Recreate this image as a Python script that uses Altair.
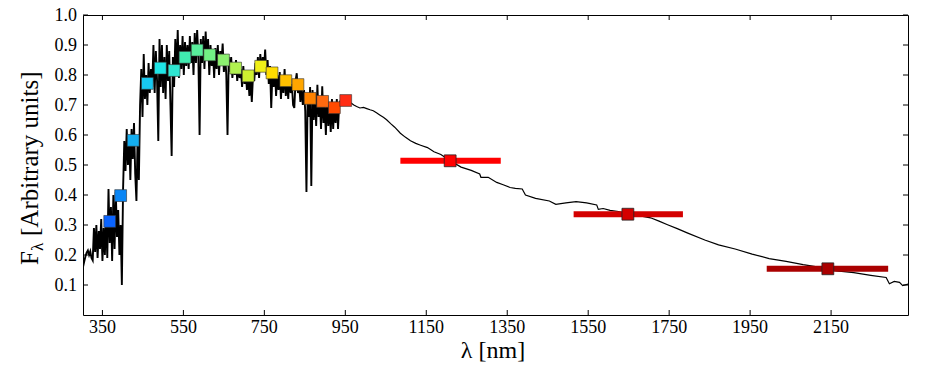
import altair as alt
import pandas as pd

# ---------------- data ----------------
# noisy optical spectrum (nm, flux)
wl_uv = [302, 305, 308, 311, 314, 317, 320, 323, 326, 329, 332, 335, 338, 341, 344, 347, 350,
         353, 356, 359, 362, 365, 368, 371, 374, 377, 380, 383, 386, 389, 392, 395, 398]
fx_uv = [0.160, 0.178, 0.195, 0.208, 0.215, 0.200, 0.212, 0.190, 0.182, 0.290,
         0.21, 0.30, 0.19, 0.28, 0.22, 0.32, 0.18, 0.29, 0.20, 0.33,
         0.19, 0.42, 0.24, 0.36, 0.18, 0.40, 0.22, 0.41, 0.26, 0.35,
         0.20, 0.30, 0.10]

wl_blue = [401, 404, 407, 410, 413, 416, 419, 422, 425, 428, 431, 434, 437, 440,
           443, 446, 449, 452, 455, 458, 461, 464, 467, 470]
fx_blue = [0.42, 0.58, 0.48, 0.62, 0.50, 0.60, 0.45, 0.62, 0.52, 0.64, 0.47, 0.38, 0.60, 0.45,
           0.70, 0.82, 0.66, 0.87, 0.72, 0.80, 0.70, 0.84, 0.74, 0.82]

wl_green = [473, 476, 479, 482, 485, 488, 491, 494, 497, 500, 503, 506, 509, 512, 515,
            518, 521, 524, 527, 530, 533, 536, 539, 542, 545, 548, 551, 554, 557, 560]
fx_green = [0.76, 0.90, 0.74, 0.88, 0.78, 0.58, 0.92, 0.76, 0.90, 0.74, 0.86, 0.72, 0.90, 0.78, 0.88,
            0.70, 0.53, 0.86, 0.76, 0.92, 0.80, 0.95, 0.79, 0.90, 0.82, 0.93, 0.80, 0.91, 0.83, 0.90]

wl_yel = [563, 566, 569, 572, 575, 578, 581, 584, 587, 590, 593, 596, 599, 602, 605,
          608, 611, 614, 617, 620, 623, 626, 629, 632, 635, 638, 641, 644, 647, 650]
fx_yel = [0.82, 0.93, 0.84, 0.91, 0.80, 0.94, 0.84, 0.95, 0.86, 0.60, 0.92, 0.84, 0.93, 0.82, 0.945,
          0.85, 0.92, 0.80, 0.90, 0.83, 0.88, 0.79, 0.89, 0.82, 0.90, 0.80, 0.88, 0.84, 0.905, 0.81]

wl_orange = [653, 656, 659, 662, 665, 668, 671, 674, 677, 680, 683, 686, 689, 692, 695, 698,
             701, 704, 707, 710, 713, 716, 719, 722, 725, 728, 731, 734, 737, 740, 743, 746,
             749, 752, 755, 758, 761, 764, 767, 770]
fx_orange = [0.87, 0.80, 0.60, 0.86, 0.81, 0.86, 0.79, 0.84, 0.80, 0.85, 0.78, 0.83, 0.79, 0.82, 0.76, 0.83,
             0.77, 0.81, 0.75, 0.80, 0.73, 0.79, 0.71, 0.80, 0.78, 0.84, 0.80, 0.86, 0.79, 0.87, 0.81, 0.86,
             0.82, 0.885, 0.80, 0.85, 0.77, 0.83, 0.69, 0.81]

wl_red = [773, 776, 779, 782, 785, 788, 791, 794, 797, 800, 803, 806, 809, 812, 815, 818, 821, 824,
          827, 830, 833, 836, 839, 842, 845, 848, 851, 854, 857, 860, 863, 866, 869, 872, 875, 878,
          881, 884, 887, 890, 893, 896, 899, 902, 905, 908, 911, 914, 917, 920, 923, 926, 929, 932, 935]
fx_red = [0.76, 0.82, 0.73, 0.80, 0.75, 0.81, 0.72, 0.79, 0.74, 0.82, 0.73, 0.78, 0.72, 0.80, 0.74, 0.77, 0.70, 0.69,
          0.78, 0.806, 0.74, 0.77, 0.71, 0.76, 0.70, 0.75, 0.68, 0.41, 0.74, 0.66, 0.76, 0.43, 0.75, 0.65, 0.74, 0.63,
          0.767, 0.66, 0.72, 0.62, 0.762, 0.64, 0.70, 0.60, 0.73, 0.63, 0.70, 0.61, 0.72, 0.62, 0.70, 0.64, 0.72, 0.62, 0.71]

# smooth near-infrared spectrum
wl_ir = [935, 940, 946, 952, 958, 965, 971, 978, 986, 995, 1003, 1011, 1019, 1027, 1035, 1044, 1052, 1062, 1072,
         1086, 1098, 1111, 1124, 1136, 1153, 1169, 1186, 1209, 1236, 1261, 1282, 1285, 1303, 1324, 1340,
         1357, 1370, 1387, 1395, 1420, 1454, 1470, 1495, 1520, 1546, 1571, 1575, 1587, 1604, 1625, 1648,
         1675, 1704, 1725, 1746, 1770, 1796, 1838, 1872, 1913, 1955, 1997, 2039, 2081, 2123, 2164, 2206,
         2248, 2286, 2294, 2306, 2319, 2327, 2344]
fx_ir = [0.71, 0.718, 0.714, 0.708, 0.712, 0.706, 0.700, 0.695, 0.690, 0.692, 0.688, 0.684, 0.681, 0.674, 0.667,
         0.659, 0.651, 0.638, 0.626, 0.606, 0.593, 0.581, 0.572, 0.566, 0.558, 0.544, 0.535, 0.514, 0.493,
         0.482, 0.470, 0.459, 0.459, 0.442, 0.434, 0.425, 0.422, 0.420, 0.400, 0.389, 0.380, 0.369, 0.374,
         0.378, 0.374, 0.367, 0.352, 0.355, 0.349, 0.345, 0.336, 0.331, 0.324, 0.313, 0.301, 0.288, 0.273,
         0.250, 0.234, 0.220, 0.203, 0.188, 0.179, 0.168, 0.159, 0.147, 0.141, 0.132, 0.125, 0.104, 0.112,
         0.109, 0.098, 0.104]

# optical photometry (coloured squares)
phot_wl = [368, 395, 426, 461, 493, 527, 554, 584, 615, 649, 679, 710, 741, 769, 803, 833, 863, 894, 923, 951]
phot_fx = [0.312, 0.398, 0.582, 0.772, 0.823, 0.815, 0.859, 0.883, 0.867, 0.850,
           0.823, 0.797, 0.829, 0.807, 0.781, 0.768, 0.722, 0.712, 0.691, 0.715]
phot_col = ["#0a64ff", "#0a86f5", "#14aef0", "#18c8f0", "#1ee4e6", "#2ee6d2", "#40eab0", "#58ee9c",
            "#72f084", "#8cf070", "#b0f050", "#cef030", "#f0f018", "#ffdc00", "#ffc000", "#ffa600",
            "#ff8200", "#ff6a10", "#ff4a00", "#ff2c14"]

# NIR photometry with band widths
nir_wl = [1209, 1648, 2142]
nir_lo = [1086, 1514, 1991]
nir_hi = [1334, 1784, 2291]
nir_fx = [0.514, 0.336, 0.154]
nir_col = ["#ff0000", "#d40000", "#aa0000"]

x_ticks = [350, 550, 750, 950, 1150, 1350, 1550, 1750, 1950, 2150]
x_labels = ["350", "550", "750", "950", "1150", "1350", "1550", "1750", "1950", "2150"]
y_ticks = [0.1, 0.2, 0.3, 0.4, 0.5, 0.6, 0.7, 0.8, 0.9, 1.0]
y_labels = ["0.1", "0.2", "0.3", "0.4", "0.5", "0.6", "0.7", "0.8", "0.9", "1.0"]

# ---------------- chart ----------------
W, H = 825, 300
FONT = "Liberation Serif"
xs = alt.Scale(domain=[302, 2340], nice=False, zero=False)
ys = alt.Scale(domain=[0, 1], nice=False, zero=False)


def X(f):
    return alt.X(f, scale=xs, axis=None)


def Y(f):
    return alt.Y(f, scale=ys, axis=None)


noisy = pd.DataFrame({
    "wl": wl_uv + wl_blue + wl_green + wl_yel + wl_orange + wl_red,
    "fx": fx_uv + fx_blue + fx_green + fx_yel + fx_orange + fx_red,
})
smooth = pd.DataFrame({"wl": wl_ir, "fx": fx_ir})
phot = pd.DataFrame({"wl": phot_wl, "fx": phot_fx, "col": phot_col})
nir = pd.DataFrame({"wl": nir_wl, "lo": nir_lo, "hi": nir_hi, "fx": nir_fx, "col": nir_col})

line_noisy = alt.Chart(noisy).mark_line(color="black", strokeWidth=1.9, clip=True,
                                        strokeJoin="miter").encode(
    x=X("wl:Q"), y=Y("fx:Q"), order="wl:Q")
line_smooth = alt.Chart(smooth).mark_line(color="black", strokeWidth=1.2, clip=True).encode(
    x=X("wl:Q"), y=Y("fx:Q"), order="wl:Q")

bars = alt.Chart(nir).mark_rule(strokeWidth=6).encode(
    x=X("lo:Q"), x2="hi:Q", y=Y("fx:Q"), color=alt.Color("col:N", scale=None))

nir_sq = alt.Chart(nir).mark_square(size=140, opacity=1, stroke="#222222", strokeWidth=1,
                                     strokeOpacity=0.8).encode(
    x=X("wl:Q"), y=Y("fx:Q"), color=alt.Color("col:N", scale=None))

phot_sq = alt.Chart(phot).mark_square(size=140, opacity=1, stroke="#333333", strokeWidth=1,
                                       strokeOpacity=0.6).encode(
    x=X("wl:Q"), y=Y("fx:Q"), color=alt.Color("col:N", scale=None))

xt = pd.DataFrame({"v": x_ticks, "lab": x_labels})
yt = pd.DataFrame({"v": y_ticks, "lab": y_labels})
TL = 5
tick_b = alt.Chart(xt).mark_rule(color="black", strokeWidth=1).encode(
    x=X("v:Q"), y=alt.value(H), y2=alt.value(H - TL))
tick_t = alt.Chart(xt).mark_rule(color="black", strokeWidth=1).encode(
    x=X("v:Q"), y=alt.value(0), y2=alt.value(TL))
tick_l = alt.Chart(yt).mark_rule(color="black", strokeWidth=1).encode(
    y=Y("v:Q"), x=alt.value(0), x2=alt.value(TL))
tick_r = alt.Chart(yt).mark_rule(color="black", strokeWidth=1).encode(
    y=Y("v:Q"), x=alt.value(W), x2=alt.value(W - TL))

# tick labels
y_lab = alt.Chart(yt).mark_text(
    align="right", baseline="middle", font=FONT, fontSize=18, color="black", dy=1
).encode(y=Y("v:Q"), x=alt.value(-6), text="lab:N")
x_lab = alt.Chart(xt).mark_text(
    align="center", baseline="top", font=FONT, fontSize=18, color="black"
).encode(x=X("v:Q"), y=alt.value(H + 4), text="lab:N")

# axis titles
t_x = alt.Chart(pd.DataFrame({"t": ["λ [nm]"]})).mark_text(
    align="center", baseline="alphabetic", font=FONT, fontSize=24, color="black"
).encode(text="t:N", x=alt.value(410), y=alt.value(343))
t_f = alt.Chart(pd.DataFrame({"t": ["F"]})).mark_text(
    angle=270, align="left", baseline="alphabetic", font=FONT, fontSize=25, color="black"
).encode(text="t:N", x=alt.value(-45), y=alt.value(250))
t_l = alt.Chart(pd.DataFrame({"t": ["λ"]})).mark_text(
    angle=270, align="left", baseline="alphabetic", font=FONT, fontSize=17, color="black"
).encode(text="t:N", x=alt.value(-40), y=alt.value(236))
t_rest = alt.Chart(pd.DataFrame({"t": ["[Arbitrary units]"]})).mark_text(
    angle=270, align="left", baseline="alphabetic", font=FONT, fontSize=25, color="black"
).encode(text="t:N", x=alt.value(-45), y=alt.value(221))

chart = alt.layer(
    line_noisy, line_smooth, bars, nir_sq, phot_sq, tick_b, tick_t, tick_l, tick_r,
    y_lab, x_lab, t_x, t_f, t_l, t_rest
).properties(
    width=W, height=H,
    autosize=alt.AutoSizeParams(type="none"),
    padding={"left": 75, "top": 7, "right": 10, "bottom": 48},
).configure_view(
    stroke="black", strokeWidth=1
)

chart.save("out.html", embed_options={"renderer": "svg", "actions": False})
